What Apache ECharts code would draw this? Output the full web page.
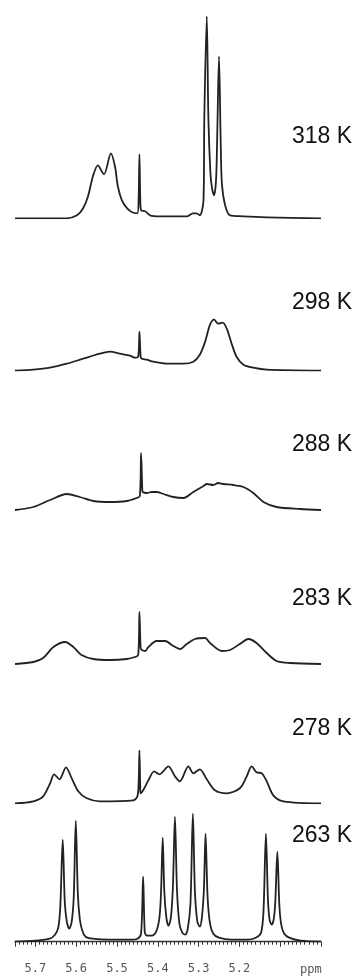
<!DOCTYPE html>
<html>
<head>
<meta charset="utf-8">
<script src="https://cdn.jsdelivr.net/npm/echarts@6.0.0/dist/echarts.min.js"></script>
<style>
  html, body { margin: 0; padding: 0; background: #fff; }
  #chart { width: 362px; height: 978px; }
</style>
</head>
<body>
<div id="chart"></div>
<script>
// spectra as [ppm, intensity]
const spec318 = [
  [5.75, 0], [5.689, 0], [5.623, 0], [5.598, 3], [5.583, 10], [5.571, 22], [5.559, 42],
  [5.547, 53], [5.532, 44], [5.515, 65], [5.505, 52], [5.498, 32], [5.488, 18], [5.475, 10],
  [5.463, 6], [5.450, 5], [5.447, 20], [5.445, 64], [5.443, 20], [5.441, 8], [5.431, 7],
  [5.419, 3], [5.395, 2], [5.328, 2], [5.314, 5], [5.305, 5], [5.297, 3], [5.288, 18],
  [5.286, 100], [5.280, 202], [5.276, 100], [5.271, 45], [5.267, 30], [5.262, 23],
  [5.257, 40], [5.254, 90], [5.250, 162], [5.246, 80], [5.243, 35], [5.235, 13],
  [5.223, 3], [5.191, 2], [5.132, 1], [5.0, 0]
];
const spec298 = [
  [5.75, 0], [5.705, 1], [5.664, 3], [5.623, 7], [5.583, 12], [5.542, 17], [5.517, 19],
  [5.493, 17], [5.468, 15], [5.456, 13], [5.448, 14], [5.445, 39], [5.442, 14], [5.439, 12],
  [5.427, 11], [5.411, 9], [5.378, 7], [5.337, 7], [5.313, 9], [5.297, 16], [5.284, 29],
  [5.272, 46], [5.262, 51], [5.252, 47], [5.241, 48], [5.231, 42], [5.219, 27], [5.207, 14],
  [5.190, 6], [5.166, 3], [5.133, 1], [5.0, 0]
];
const spec288 = [
  [5.75, 0], [5.705, 3], [5.664, 10], [5.623, 16], [5.591, 13], [5.558, 9], [5.517, 8],
  [5.476, 9], [5.452, 12], [5.444, 14], [5.441, 57], [5.438, 20], [5.437, 18], [5.427, 17],
  [5.415, 18], [5.403, 18], [5.386, 16], [5.362, 13], [5.337, 12], [5.313, 18], [5.288, 24],
  [5.280, 26], [5.264, 25], [5.252, 27], [5.239, 26], [5.215, 25], [5.190, 23], [5.166, 17],
  [5.141, 8], [5.109, 3], [5.051, 1], [5.0, 0]
];
const spec283 = [
  [5.75, 0], [5.705, 2], [5.681, 6], [5.656, 17], [5.627, 22], [5.607, 17], [5.587, 9],
  [5.558, 5], [5.517, 4], [5.476, 5], [5.456, 7], [5.448, 9], [5.445, 52], [5.442, 16],
  [5.439, 14], [5.431, 13], [5.423, 17], [5.403, 23], [5.382, 23], [5.362, 18], [5.346, 15],
  [5.329, 20], [5.309, 25], [5.284, 26], [5.272, 21], [5.243, 13], [5.223, 14], [5.199, 20],
  [5.178, 25], [5.158, 21], [5.133, 11], [5.109, 3], [5.076, 1], [5.0, 0]
];
const spec278 = [
  [5.75, 0], [5.705, 2], [5.681, 7], [5.664, 20], [5.654, 29], [5.641, 24], [5.625, 36],
  [5.611, 25], [5.595, 12], [5.574, 5], [5.542, 2], [5.460, 3], [5.450, 7], [5.447, 20],
  [5.445, 53], [5.443, 14], [5.442, 10], [5.436, 13], [5.423, 23], [5.409, 32], [5.396, 29],
  [5.374, 37], [5.358, 27], [5.346, 22], [5.325, 37], [5.313, 30], [5.297, 34], [5.280, 24],
  [5.260, 13], [5.231, 10], [5.199, 15], [5.182, 27], [5.170, 37], [5.158, 31], [5.145, 30],
  [5.133, 22], [5.117, 8], [5.092, 2], [5.0, 0]
];
const spec263 = [
  [5.75, 0], [5.70, 1], [5.665, 3], [5.652, 7], [5.644, 14], [5.639, 35], [5.633, 102],
  [5.628, 40], [5.623, 20], [5.617, 13], [5.611, 20], [5.606, 45], [5.601, 121],
  [5.596, 48], [5.591, 22], [5.585, 11], [5.577, 5], [5.56, 3], [5.52, 2], [5.47, 2],
  [5.45, 3], [5.441, 8], [5.436, 65], [5.432, 10], [5.427, 6], [5.415, 6], [5.404, 10],
  [5.396, 24], [5.392, 50], [5.388, 104], [5.384, 50], [5.379, 24], [5.374, 16],
  [5.368, 24], [5.363, 55], [5.358, 125], [5.353, 52], [5.347, 18], [5.340, 9],
  [5.333, 7], [5.327, 12], [5.320, 38], [5.314, 128], [5.309, 50], [5.303, 20],
  [5.297, 15], [5.292, 24], [5.287, 52], [5.283, 108], [5.278, 45], [5.272, 18],
  [5.264, 8], [5.250, 4], [5.22, 2], [5.18, 2], [5.16, 4], [5.147, 9], [5.141, 30],
  [5.135, 108], [5.130, 42], [5.126, 22], [5.121, 17], [5.116, 22], [5.112, 40],
  [5.107, 90], [5.102, 36], [5.097, 16], [5.090, 8], [5.078, 4], [5.05, 1], [5.0, 0]
];

const spectra = [spec318, spec298, spec288, spec283, spec278, spec263];
const tempLabels = ['318 K', '298 K', '288 K', '283 K', '278 K', '263 K'];
const tickLabels = ['5.2', '5.3', '5.4', '5.5', '5.6', '5.7'];

// layout: baseline y (px) of each trace and y of its label
const baselines = [218.3, 370.7, 510, 664, 803.3, 941.7];
const labelY = [138, 304, 446, 600, 730, 837];
const H = 210;

const chart = echarts.init(document.getElementById('chart'));

const grid = [], xAxis = [], yAxis = [], series = [], graphic = [];
spectra.forEach((data, i) => {
  const last = i === spectra.length - 1;
  grid.push({ left: 15, width: 306, top: baselines[i] - H, height: H });
  xAxis.push({
    type: 'value', gridIndex: i, min: 5.0, max: 5.75, inverse: true, interval: 0.1,
    show: last,
    offset: 13,
    axisLine: { lineStyle: { color: '#333', width: 1.3 } },
    axisTick: { show: true, length: 5, lineStyle: { color: '#333' } },
    minorTick: { show: true, splitNumber: 10, length: 3, lineStyle: { color: '#333' } },
    splitLine: { show: false },
    axisLabel: {
      margin: 8,
      fontFamily: 'DejaVu Sans Mono',
      fontSize: 12,
      color: '#555',
      formatter: v => tickLabels.includes(v.toFixed(1)) ? v.toFixed(1) : ''
    }
  });
  yAxis.push({ type: 'value', gridIndex: i, min: 0, max: H, show: false });
  series.push({
    type: 'line', xAxisIndex: i, yAxisIndex: i, data: data,
    showSymbol: false, smooth: 0.3,
    lineStyle: { color: '#222', width: 1.8, join: 'round' },
    silent: true, animation: false
  });
  graphic.push({
    type: 'text', left: 292, top: labelY[i] - 13,
    style: { text: tempLabels[i], font: '23px "Liberation Sans", Arial, sans-serif', fill: '#111' }
  });
});
graphic.push({
  type: 'text', left: 300, top: 964,
  style: { text: 'ppm', font: '12px "DejaVu Sans Mono", monospace', fill: '#555' }
});

chart.setOption({ animation: false, grid, xAxis, yAxis, series, graphic });
</script>
</body>
</html>
